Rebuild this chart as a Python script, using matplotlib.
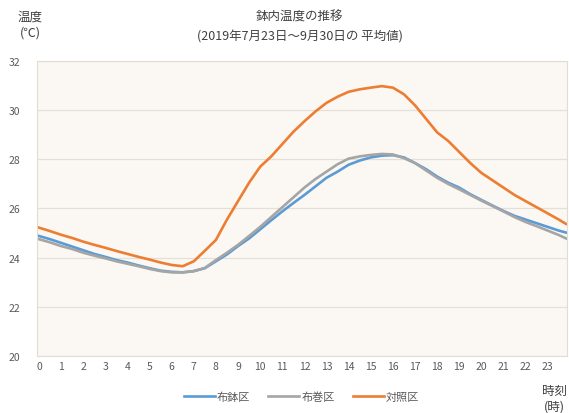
import matplotlib
matplotlib.use("Agg")
import matplotlib.pyplot as plt
import numpy as np

plt.rcParams['font.family'] = ['Noto Sans CJK JP', 'DejaVu Sans']

# 時刻 (時), 30分ごと + 最終点
hours = list(np.arange(0, 24, 0.5)) + [23.83]

# 布鉢区
hachi = [24.88, 24.75, 24.60, 24.45, 24.30, 24.15, 24.03, 23.90, 23.80, 23.68,
         23.57, 23.47, 23.42, 23.40, 23.45, 23.57, 23.85, 24.13, 24.47, 24.78,
         25.15, 25.52, 25.88, 26.22, 26.55, 26.90, 27.25, 27.50, 27.78, 27.95,
         28.08, 28.15, 28.17, 28.08, 27.85, 27.60, 27.30, 27.05, 26.85, 26.58,
         26.35, 26.12, 25.90, 25.70, 25.55, 25.40, 25.25, 25.10, 25.02]
# 布巻区
maki = [24.75, 24.62, 24.47, 24.35, 24.20, 24.08, 23.97, 23.85, 23.75, 23.65,
        23.54, 23.45, 23.40, 23.40, 23.45, 23.58, 23.90, 24.20, 24.52, 24.88,
        25.25, 25.65, 26.05, 26.45, 26.85, 27.20, 27.50, 27.80, 28.03, 28.12,
        28.18, 28.22, 28.20, 28.05, 27.85, 27.55, 27.25, 27.00, 26.78, 26.55,
        26.32, 26.10, 25.88, 25.65, 25.45, 25.28, 25.10, 24.92, 24.78]
# 対照区
taisho = [25.22, 25.08, 24.93, 24.80, 24.65, 24.52, 24.40, 24.27, 24.15, 24.03,
          23.92, 23.80, 23.70, 23.65, 23.85, 24.28, 24.72, 25.55, 26.30, 27.05,
          27.70, 28.12, 28.62, 29.12, 29.55, 29.95, 30.30, 30.55, 30.75, 30.85,
          30.92, 30.98, 30.92, 30.65, 30.20, 29.65, 29.10, 28.75, 28.30, 27.85,
          27.45, 27.15, 26.85, 26.55, 26.30, 26.05, 25.80, 25.55, 25.37]

series = {'布鉢区': (hachi, '#5B9BD5'), '布巻区': (maki, '#A5A5A5'), '対照区': (taisho, '#ED7D31')}

fig = plt.figure(figsize=(5.69, 4.14), dpi=100)
ax = fig.add_axes([0.065, 0.138, 0.931, 0.712])
ax.set_facecolor('#fbf8f4')

for name, (vals, col) in series.items():
    ax.plot(hours, vals, color=col, lw=1.9, label=name)

ax.set_xlim(-0.09, 23.86)
ax.set_ylim(20, 32)
ax.set_xticks(range(24))
ax.set_yticks(range(20, 33, 2))
ax.yaxis.grid(True, color='#e6dfd8', lw=0.9)
ax.tick_params(length=0, labelsize=7.5, labelcolor='#595959')
ax.tick_params(axis='y', pad=12)
for s in ax.spines.values():
    s.set_color('#e2dcd6')
    s.set_linewidth(0.8)

fig.text(0.527, 0.958, '鉢内温度の推移', ha='center', va='center', fontsize=9, color='#404040')
fig.text(0.527, 0.91, '(2019年7月23日～9月30日の 平均値)', ha='center', va='center', fontsize=9, color='#404040')
fig.text(0.053, 0.94, '温度\n(℃)', ha='center', va='center', fontsize=9, color='#404040', linespacing=1.3)
fig.text(0.975, 0.035, '時刻\n(時)', ha='center', va='center', fontsize=9, color='#404040', linespacing=1.3)

fig.legend(loc='center', bbox_to_anchor=(0.53, 0.04), ncol=3, frameon=False,
           fontsize=8, labelcolor='#595959', handlelength=2.8, handletextpad=0.2, columnspacing=1.6)

fig.savefig('out.png', dpi=100)
